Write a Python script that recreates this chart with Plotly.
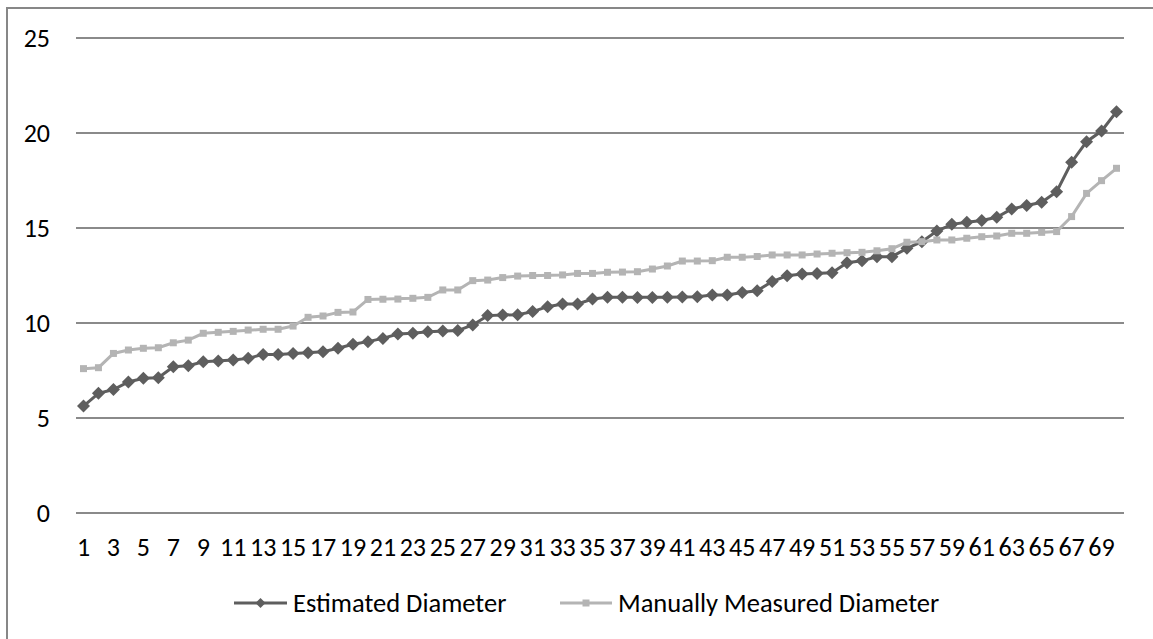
import plotly.graph_objects as go

samples = list(range(1, 71))

estimated = [5.63, 6.30, 6.50, 6.90, 7.09, 7.12, 7.70, 7.75, 7.96, 8.00,
             8.05, 8.14, 8.35, 8.35, 8.40, 8.44, 8.49, 8.67, 8.88, 9.02,
             9.19, 9.42, 9.46, 9.54, 9.58, 9.60, 9.90, 10.39, 10.42, 10.44,
             10.60, 10.86, 11.00, 11.00, 11.26, 11.35, 11.35, 11.34, 11.34, 11.35,
             11.37, 11.38, 11.47, 11.47, 11.61, 11.70, 12.18, 12.49, 12.58, 12.61,
             12.65, 13.17, 13.27, 13.48, 13.49, 13.93, 14.28, 14.84, 15.19, 15.30,
             15.39, 15.56, 16.00, 16.18, 16.35, 16.91, 18.46, 19.54, 20.10, 21.12]

manual = [7.60, 7.65, 8.40, 8.58, 8.67, 8.70, 8.96, 9.10, 9.46, 9.51,
          9.56, 9.63, 9.67, 9.67, 9.84, 10.30, 10.37, 10.56, 10.58, 11.24,
          11.25, 11.26, 11.30, 11.35, 11.74, 11.74, 12.23, 12.26, 12.39, 12.47,
          12.50, 12.50, 12.53, 12.61, 12.61, 12.67, 12.68, 12.70, 12.84, 13.00,
          13.26, 13.26, 13.28, 13.46, 13.46, 13.50, 13.58, 13.58, 13.58, 13.63,
          13.67, 13.70, 13.72, 13.80, 13.91, 14.25, 14.28, 14.37, 14.37, 14.46,
          14.54, 14.58, 14.72, 14.72, 14.77, 14.81, 15.60, 16.82, 17.49, 18.14]

series_names = ["Estimated Diameter", "Manually Measured Diameter"]
x_ticks = list(range(1, 71, 2))
y_ticks = [0, 5, 10, 15, 20, 25]

FONT = "Carlito, Calibri, 'Open Sans', sans-serif"
DARK = "#5e5e5e"
LIGHT = "#b4b4b4"

# figure geometry (pixels)
W, H = 1153, 639
L, R, T, B = 76, 29, 36, 124
PW, PH = W - L - R, H - T - B


def px(x):
    return (x - L) / PW


def py(y):
    return (H - B - y) / PH


fig = go.Figure()
fig.add_trace(go.Scatter(
    x=samples, y=estimated, name=series_names[0], mode="lines+markers",
    line=dict(color=DARK, width=3),
    marker=dict(symbol="diamond", size=10, color=DARK),
))
fig.add_trace(go.Scatter(
    x=samples, y=manual, name=series_names[1], mode="lines+markers",
    line=dict(color=LIGHT, width=3),
    marker=dict(symbol="square", size=7, color=LIGHT),
))

# hand-built legend (long line samples as in the original)
LEG_Y = 603
shapes = [dict(type="rect", xref="paper", yref="paper",
               x0=px(7), x1=px(1165), y0=py(665), y1=py(8),
               line=dict(color="#878787", width=2), fillcolor="rgba(0,0,0,0)",
               layer="below")]
annotations = []
legend_items = [(234, 287, 291, "diamond", DARK), (560, 612, 616, "square", LIGHT)]
for name, (x0, x1, xt, sym, col) in zip(series_names, legend_items):
    shapes.append(dict(type="line", xref="paper", yref="paper",
                       x0=px(x0), x1=px(x1), y0=py(LEG_Y), y1=py(LEG_Y),
                       line=dict(color=col, width=3)))
    cx = (x0 + x1) / 2
    if sym == "diamond":
        d = 5
        path = (f"M{px(cx - d)},{py(LEG_Y)} L{px(cx)},{py(LEG_Y - d)} "
                f"L{px(cx + d)},{py(LEG_Y)} L{px(cx)},{py(LEG_Y + d)} Z")
    else:
        d = 3.5
        path = (f"M{px(cx - d)},{py(LEG_Y - d)} L{px(cx + d)},{py(LEG_Y - d)} "
                f"L{px(cx + d)},{py(LEG_Y + d)} L{px(cx - d)},{py(LEG_Y + d)} Z")
    shapes.append(dict(type="path", xref="paper", yref="paper", path=path,
                       fillcolor=col, line=dict(color=col, width=0)))
    annotations.append(dict(text=name, xref="paper", yref="paper",
                            x=px(xt), y=py(LEG_Y), xanchor="left", yanchor="middle",
                            showarrow=False, font=dict(family=FONT, size=26.5, color="#000000")))

fig.update_layout(
    width=W, height=H,
    margin=dict(l=L, r=R, t=T, b=B),
    paper_bgcolor="white", plot_bgcolor="white",
    font=dict(family=FONT, size=26, color="#000000"),
    showlegend=False,
    xaxis=dict(range=[0.5, 70.5], tickmode="array", tickvals=x_ticks,
               ticktext=[str(v) for v in x_ticks], showgrid=False, zeroline=False,
               showline=False, ticks="", tickangle=0, ticklabelstandoff=14,
               tickfont=dict(family=FONT, size=26)),
    yaxis=dict(range=[-0.1, 25.1], tickmode="array", tickvals=y_ticks,
               showgrid=True, gridcolor="#8a8a8a", gridwidth=1.5, zeroline=False,
               showline=False, ticks="", ticklabelstandoff=25,
               tickfont=dict(family=FONT, size=26)),
    shapes=shapes,
    annotations=annotations,
)

fig.write_html("out.html")
